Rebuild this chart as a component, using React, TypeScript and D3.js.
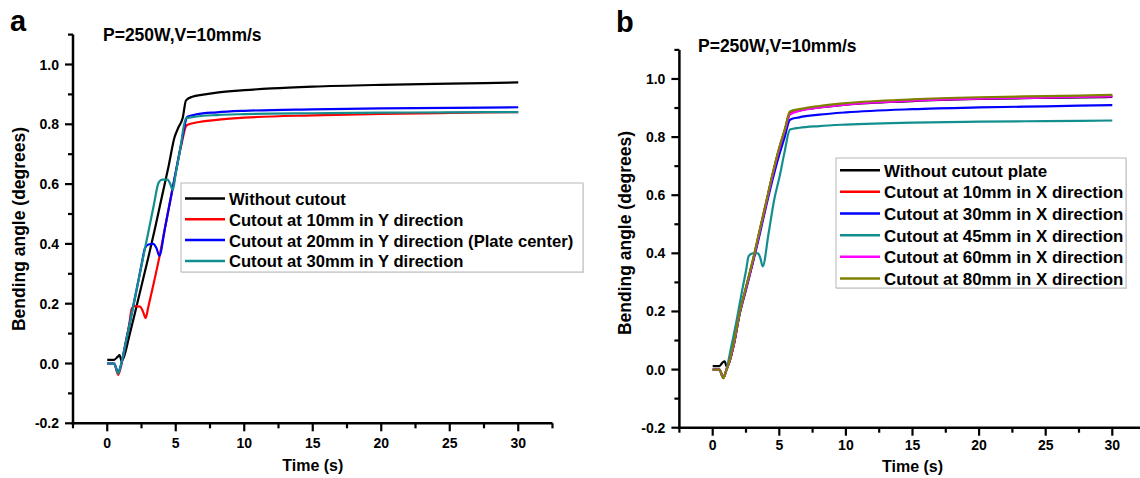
import React from "react";
import * as d3 from "d3";

type Pt = [number, number];

// ---------- Data (time s, bending angle deg) ----------
// Panel a
const aWithout: Pt[] = [[0,0.012],[0.5,0.012],[0.75,0.022],[0.9,0.028],[1.05,0.008],[1.2,0.02],[1.6,0.09],[2.0,0.165],[2.5,0.26],[3.0,0.355],[3.5,0.455],[4.0,0.56],[4.5,0.665],[4.9,0.755],[5.2,0.79],[5.5,0.82],[5.75,0.88],[6.2,0.892],[7,0.899],[8,0.906],[10,0.914],[12,0.92],[15,0.926],[20,0.932],[25,0.936],[30,0.94]];
const aY10: Pt[] = [[0,0],[0.5,0],[0.8,-0.038],[1.0,-0.01],[1.3,0.06],[1.6,0.13],[1.8,0.185],[2.0,0.192],[2.4,0.19],[2.6,0.175],[2.8,0.152],[3.0,0.19],[3.4,0.27],[3.8,0.355],[4.2,0.45],[4.6,0.545],[5.0,0.64],[5.4,0.73],[5.8,0.797],[6.5,0.806],[8,0.815],[10,0.822],[15,0.83],[20,0.835],[25,0.838],[30,0.841]];
const aY20: Pt[] = [[0,0],[0.5,0],[0.8,-0.03],[1.0,-0.005],[1.4,0.08],[1.8,0.17],[2.2,0.26],[2.5,0.33],[2.75,0.385],[3.0,0.398],[3.35,0.4],[3.6,0.385],[3.8,0.36],[4.2,0.45],[4.6,0.545],[5.0,0.64],[5.4,0.735],[5.85,0.825],[6.5,0.833],[8,0.84],[10,0.845],[15,0.85],[20,0.853],[25,0.855],[30,0.857]];
const aY30: Pt[] = [[0,0],[0.5,0],[0.8,-0.033],[1.0,-0.005],[1.4,0.08],[1.8,0.17],[2.2,0.26],[2.6,0.35],[3.0,0.44],[3.4,0.53],[3.75,0.605],[4.0,0.615],[4.4,0.615],[4.6,0.6],[4.78,0.58],[5.0,0.635],[5.3,0.71],[5.75,0.82],[6.5,0.826],[8,0.831],[10,0.834],[15,0.837],[20,0.839],[25,0.84],[30,0.841]];

// Panel b
const bWithout: Pt[] = [[0,0.012],[0.5,0.012],[0.75,0.025],[0.9,0.028],[1.05,0.01],[1.2,0.02],[1.6,0.09],[2.0,0.19],[2.5,0.28],[3.0,0.37],[3.5,0.47],[4.0,0.57],[4.5,0.67],[5.0,0.76],[5.4,0.82],[5.8,0.883],[6.5,0.892],[8,0.902],[10,0.912],[15,0.924],[20,0.931],[25,0.935],[30,0.938]];
const bX10: Pt[] = [[0,0],[0.5,0],[0.8,-0.028],[1.0,-0.005],[1.2,0.02],[1.6,0.09],[2.0,0.19],[2.5,0.28],[3.0,0.37],[3.5,0.47],[4.0,0.57],[4.5,0.67],[5.0,0.76],[5.4,0.82],[5.8,0.88],[6.5,0.892],[8,0.904],[10,0.914],[15,0.927],[20,0.934],[25,0.938],[30,0.942]];
const bX30: Pt[] = [[0,0],[0.5,0],[0.8,-0.028],[1.0,-0.005],[1.2,0.02],[1.6,0.09],[2.0,0.185],[2.5,0.275],[3.0,0.365],[3.5,0.46],[4.0,0.56],[4.5,0.655],[5.0,0.74],[5.4,0.8],[5.8,0.86],[6.5,0.868],[8,0.877],[10,0.885],[15,0.896],[20,0.902],[25,0.906],[30,0.91]];
const bX45: Pt[] = [[0,0],[0.5,0],[0.8,-0.028],[1.0,-0.005],[1.4,0.08],[1.8,0.17],[2.2,0.27],[2.5,0.34],[2.7,0.39],[3.0,0.4],[3.4,0.4],[3.6,0.38],[3.75,0.355],[4.2,0.47],[4.6,0.58],[5.05,0.67],[5.4,0.75],[5.8,0.826],[6.5,0.832],[8,0.838],[10,0.843],[15,0.85],[20,0.853],[25,0.855],[30,0.857]];
const bX60: Pt[] = [[0,0],[0.5,0],[0.8,-0.028],[1.0,-0.005],[1.2,0.02],[1.6,0.09],[2.0,0.19],[2.5,0.28],[3.0,0.37],[3.5,0.47],[4.0,0.57],[4.5,0.67],[5.0,0.76],[5.4,0.82],[5.8,0.878],[6.5,0.89],[8,0.902],[10,0.912],[15,0.925],[20,0.932],[25,0.936],[30,0.94]];
const bX80: Pt[] = [[0,0],[0.5,0],[0.8,-0.03],[1.0,-0.005],[1.2,0.02],[1.6,0.095],[2.0,0.19],[2.5,0.285],[3.0,0.375],[3.5,0.475],[4.0,0.575],[4.5,0.675],[5.0,0.765],[5.4,0.825],[5.8,0.888],[6.5,0.896],[8,0.907],[10,0.917],[15,0.93],[20,0.937],[25,0.941],[30,0.945]];

const aLabels = ["Without cutout", "Cutout at 10mm in Y direction", "Cutout at 20mm in Y direction (Plate center)", "Cutout at 30mm in Y direction"];
const bLabels = ["Without cutout plate", "Cutout at 10mm in X direction", "Cutout at 30mm in X direction", "Cutout at 45mm in X direction", "Cutout at 60mm in X direction", "Cutout at 80mm in X direction"];
const aColors = ["#000000", "#ff0000", "#0000ff", "#128e8e"];
const bColors = ["#000000", "#ff0000", "#0000ff", "#128e8e", "#ff00ff", "#808000"];

const xMajor = [0, 5, 10, 15, 20, 25, 30];
const xMinor = [-2.5, 2.5, 7.5, 12.5, 17.5, 22.5, 27.5, 32.5];
const yMajor = [-0.2, 0, 0.2, 0.4, 0.6, 0.8, 1.0];
const yMajorLabels = ["-0.2", "0.0", "0.2", "0.4", "0.6", "0.8", "1.0"];
const yMinor = [-0.1, 0.1, 0.3, 0.5, 0.7, 0.9, 1.1];

const FONT = "'Liberation Sans', Arial, sans-serif";

interface PanelProps {
  letter: string;
  letterPos: [number, number];
  titlePos: [number, number];
  xRange: [number, number];
  yRange: [number, number];
  series: Pt[][];
  colors: string[];
  labels: string[];
  legend: { x: number; y: number; w: number; h: number; firstBase: number; step: number; font: number };
  yLabelPos: [number, number];
  xLabelBase: number;
  xTickBase: number;
}

function Panel(p: PanelProps) {
  const x = d3.scaleLinear().domain([-2.5, 32.5]).range(p.xRange);
  const y = d3.scaleLinear().domain([-0.2, 1.1]).range(p.yRange);
  const line = d3.line<Pt>().x(d => x(d[0])).y(d => y(d[1])).curve(d3.curveMonotoneX);
  const x0 = p.xRange[0];
  const y0 = p.yRange[0];
  const L = p.legend;
  return (
    <g>
      <text x={p.letterPos[0]} y={p.letterPos[1]} fontFamily={FONT} fontWeight="bold" fontSize={29}>{p.letter}</text>
      <text x={p.titlePos[0]} y={p.titlePos[1]} fontFamily={FONT} fontWeight="bold" fontSize={17.5}>P=250W,V=10mm/s</text>
      {p.series.map((s, i) => (
        <path key={i} d={line(s) || ""} fill="none" stroke={p.colors[i]} strokeWidth={2.2} strokeLinejoin="round" />
      ))}
      {/* axes */}
      <line x1={x0} x2={x0} y1={y0 + 1.25} y2={p.yRange[1]} stroke="#000" strokeWidth={2.5} />
      <line x1={x0 - 1.25} x2={p.xRange[1]} y1={y0} y2={y0} stroke="#000" strokeWidth={2.5} />
      {yMajor.map((v, i) => (
        <g key={"ym" + i}>
          <line x1={x0 - 8} x2={x0} y1={y(v)} y2={y(v)} stroke="#000" strokeWidth={2.2} />
          <text x={x0 - 14} y={y(v)} dy="0.36em" textAnchor="end" fontFamily={FONT} fontWeight="bold" fontSize={14}>{yMajorLabels[i]}</text>
        </g>
      ))}
      {yMinor.map((v, i) => (
        <line key={"yn" + i} x1={x0 - 5} x2={x0} y1={y(v)} y2={y(v)} stroke="#000" strokeWidth={2.2} />
      ))}
      {xMajor.map((v, i) => (
        <g key={"xm" + i}>
          <line x1={x(v)} x2={x(v)} y1={y0} y2={y0 + 8} stroke="#000" strokeWidth={2.2} />
          <text x={x(v)} y={p.xTickBase} textAnchor="middle" fontFamily={FONT} fontWeight="bold" fontSize={14}>{v}</text>
        </g>
      ))}
      {xMinor.map((v, i) => (
        <line key={"xn" + i} x1={x(v)} x2={x(v)} y1={y0} y2={y0 + 5} stroke="#000" strokeWidth={2.2} />
      ))}
      <text x={(p.xRange[0] + p.xRange[1]) / 2} y={p.xLabelBase} textAnchor="middle" fontFamily={FONT} fontWeight="bold" fontSize={16}>Time (s)</text>
      <text transform={`translate(${p.yLabelPos[0]},${p.yLabelPos[1]}) rotate(-90)`} textAnchor="middle" dy="0.36em" fontFamily={FONT} fontSize={17.5} fontWeight="bold">Bending angle (degrees)</text>
      {/* legend */}
      <rect x={L.x + 1} y={L.y + 1} width={L.w} height={L.h} fill="#e4e4e4" />
      <rect x={L.x} y={L.y} width={L.w} height={L.h} fill="#fff" stroke="#b8b8b8" strokeWidth={1} />
      {p.labels.map((lab, i) => {
        const base = L.firstBase + i * L.step;
        return (
          <g key={"lg" + i}>
            <line x1={L.x + 4} x2={L.x + 44} y1={base - 6.5} y2={base - 6.5} stroke={p.colors[i]} strokeWidth={2.5} />
            <text x={L.x + 48} y={base} fontFamily={FONT} fontWeight="bold" fontSize={L.font}>{lab}</text>
          </g>
        );
      })}
    </g>
  );
}

export default function App() {
  return (
    <svg width={1140} height={478} style={{ position: "absolute", left: 0, top: 0, background: "#fff" }}>
      <rect x={0} y={0} width={1140} height={478} fill="#fff" />
      <Panel
        letter="a"
        letterPos={[10, 31]}
        titlePos={[103, 41]}
        xRange={[73, 552.5]}
        yRange={[423.3, 34.6]}
        series={[aWithout, aY10, aY20, aY30]}
        colors={aColors}
        labels={aLabels}
        legend={{ x: 181, y: 183, w: 402, h: 89, firstBase: 205, step: 20.8, font: 16.6 }}
        yLabelPos={[19, 229]}
        xLabelBase={471}
        xTickBase={448}
      />
      <Panel
        letter="b"
        letterPos={[616, 32]}
        titlePos={[698, 52]}
        xRange={[679.4, 1145.6]}
        yRange={[427.7, 49.9]}
        series={[bWithout, bX10, bX30, bX45, bX60, bX80]}
        colors={bColors}
        labels={bLabels}
        legend={{ x: 836, y: 158, w: 290, h: 130, firstBase: 176.7, step: 21.66, font: 16.9 }}
        yLabelPos={[625, 233]}
        xLabelBase={472}
        xTickBase={450}
      />
    </svg>
  );
}
